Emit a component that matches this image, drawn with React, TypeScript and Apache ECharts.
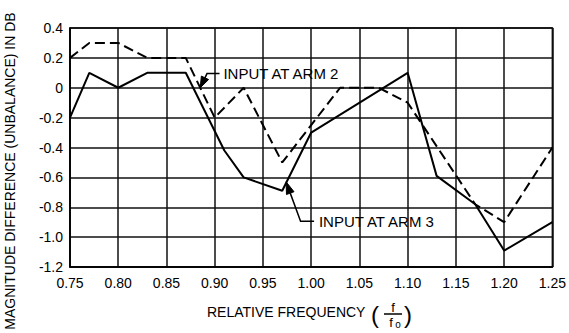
import React, { useEffect, useRef } from "react";
import * as echarts from "echarts";

// Relative frequency (f / f0) and magnitude difference (dB)
const freqArm2 = [0.75, 0.77, 0.8, 0.83, 0.87, 0.9, 0.93, 0.97, 1.03, 1.07, 1.1, 1.17, 1.2, 1.25];
const diffArm2 = [0.2, 0.3, 0.3, 0.2, 0.2, -0.2, 0, -0.5, 0, 0, -0.1, -0.78, -0.9, -0.4];
const freqArm3 = [0.75, 0.77, 0.8, 0.83, 0.87, 0.91, 0.93, 0.97, 1.0, 1.1, 1.13, 1.17, 1.2, 1.25];
const diffArm3 = [-0.2, 0.1, 0, 0.1, 0.1, -0.42, -0.6, -0.69, -0.3, 0.1, -0.59, -0.78, -1.09, -0.9];

const xTickLabels = ["0.75", "0.80", "0.85", "0.90", "0.95", "1.00", "1.05", "1.10", "1.15", "1.20", "1.25"];
const yTickLabels = ["-1.2", "-1.0", "-0.8", "-0.6", "-0.4", "-0.2", "0", "0.2", "0.4"];

const labelArm2 = "INPUT AT ARM 2";
const labelArm3 = "INPUT AT ARM 3";
const xTitle = "RELATIVE FREQUENCY";
const yTitle = "MAGNITUDE DIFFERENCE (UNBALANCE) IN DB";

const FONT = "Liberation Sans, Arial, sans-serif";

export default function App() {
  const ref = useRef<HTMLDivElement>(null);
  useEffect(() => {
    document.body.style.margin = "0";
    const el = ref.current!;
    const chart = echarts.init(el, null, { renderer: "svg" });
    const pair = (xs: number[], ys: number[]) => xs.map((x, i) => [x, ys[i]]);
    const option: any = {
      animation: false,
      backgroundColor: "#fff",
      grid: {
        left: 70,
        right: 14,
        top: 28,
        bottom: 66,
        show: true,
        borderColor: "#000",
        borderWidth: 1.5,
      },
      xAxis: {
        type: "value",
        min: 0.75,
        max: 1.25,
        interval: 0.05,
        axisLine: { show: true, onZero: false, lineStyle: { color: "#000", width: 1.5 } },
        axisTick: { show: false },
        splitLine: { show: true, lineStyle: { color: "#111", width: 1.5 } },
        axisLabel: {
          color: "#000",
          fontFamily: FONT,
          fontSize: 14,
          margin: 9,
          formatter: (v: number) => {
            const i = Math.round((v - 0.75) / 0.05);
            return xTickLabels[i] ?? v.toFixed(2);
          },
        },
      },
      yAxis: {
        type: "value",
        min: -1.2,
        max: 0.4,
        interval: 0.2,
        axisLine: { show: true, onZero: false, lineStyle: { color: "#000", width: 1.5 } },
        axisTick: { show: false },
        splitLine: { show: true, lineStyle: { color: "#111", width: 1.5 } },
        axisLabel: {
          color: "#000",
          fontFamily: FONT,
          fontSize: 14,
          margin: 7,
          formatter: (v: number) => {
            const i = Math.round((v + 1.2) / 0.2);
            return yTickLabels[i] ?? v.toFixed(1);
          },
        },
      },
      series: [
        {
          name: labelArm2,
          type: "line",
          data: pair(freqArm2, diffArm2),
          symbol: "none",
          lineStyle: { color: "#000", width: 2, type: [10, 5] },
        },
        {
          name: labelArm3,
          type: "line",
          data: pair(freqArm3, diffArm3),
          symbol: "none",
          lineStyle: { color: "#000", width: 2 },
        },
      ],
    };
    chart.setOption(option);

    const p = (x: number, y: number) => chart.convertToPixel({ gridIndex: 0 }, [x, y]) as number[];
    const arrow = (tipD: number[], elbowD: number[], endD: number[], L: number, W: number) => {
      const t = p(tipD[0], tipD[1]);
      const e = p(elbowD[0], elbowD[1]);
      const en = p(endD[0], endD[1]);
      const dx = t[0] - e[0];
      const dy = t[1] - e[1];
      const len = Math.hypot(dx, dy);
      const ux = dx / len;
      const uy = dy / len;
      const bx = t[0] - ux * L;
      const by = t[1] - uy * L;
      const nx = -uy;
      const ny = ux;
      return [
        {
          type: "polyline",
          shape: { points: [[bx, by], e, en] },
          style: { stroke: "#000", lineWidth: 1.5, fill: null },
        },
        {
          type: "polygon",
          shape: {
            points: [t, [bx + nx * W, by + ny * W], [bx - nx * W, by - ny * W]],
          },
          style: { fill: "#000", stroke: "#000", lineWidth: 1 },
        },
      ];
    };

    const a2 = arrow([0.885, 0.0], [0.892, 0.095], [0.905, 0.095], 11, 4);
    const a3 = arrow([0.974, -0.63], [0.989, -0.893], [1.003, -0.893], 12, 4);
    const t2 = p(0.909, 0.093);
    const t3 = p(1.008, -0.893);

    const graphic: any[] = [
      ...a2,
      ...a3,
      {
        type: "text",
        x: t2[0],
        y: t2[1],
        style: { text: labelArm2, fill: "#000", font: `15px ${FONT}`, textAlign: "left", textVerticalAlign: "middle" },
      },
      {
        type: "text",
        x: t3[0],
        y: t3[1],
        style: { text: labelArm3, fill: "#000", font: `15px ${FONT}`, textAlign: "left", textVerticalAlign: "middle" },
      },
      {
        type: "text",
        x: 10,
        y: 171,
        rotation: Math.PI / 2,
        style: { text: yTitle, fill: "#000", font: `14px ${FONT}`, textAlign: "center", textVerticalAlign: "middle" },
      },
      {
        type: "text",
        x: 207,
        y: 312,
        style: { text: xTitle, fill: "#000", font: `14px ${FONT}`, textAlign: "left", textVerticalAlign: "middle" },
      },
      {
        type: "text",
        x: 371,
        y: 314,
        style: { text: "(", fill: "#000", font: `24px ${FONT}`, textAlign: "left", textVerticalAlign: "middle" },
      },
      {
        type: "text",
        x: 393,
        y: 307,
        style: { text: "f", fill: "#000", font: `13px ${FONT}`, textAlign: "center", textVerticalAlign: "middle" },
      },
      {
        type: "line",
        shape: { x1: 384, y1: 314, x2: 402, y2: 314 },
        style: { stroke: "#000", lineWidth: 1.5 },
      },
      {
        type: "text",
        x: 391,
        y: 322,
        style: { text: "f", fill: "#000", font: `13px ${FONT}`, textAlign: "center", textVerticalAlign: "middle" },
      },
      {
        type: "text",
        x: 398,
        y: 324,
        style: { text: "o", fill: "#000", font: `10px ${FONT}`, textAlign: "center", textVerticalAlign: "middle" },
      },
      {
        type: "text",
        x: 404,
        y: 314,
        style: { text: ")", fill: "#000", font: `24px ${FONT}`, textAlign: "left", textVerticalAlign: "middle" },
      },
    ];
    chart.setOption({ graphic });
    return () => chart.dispose();
  }, []);
  return <div ref={ref} style={{ width: 569, height: 333 }} />;
}
